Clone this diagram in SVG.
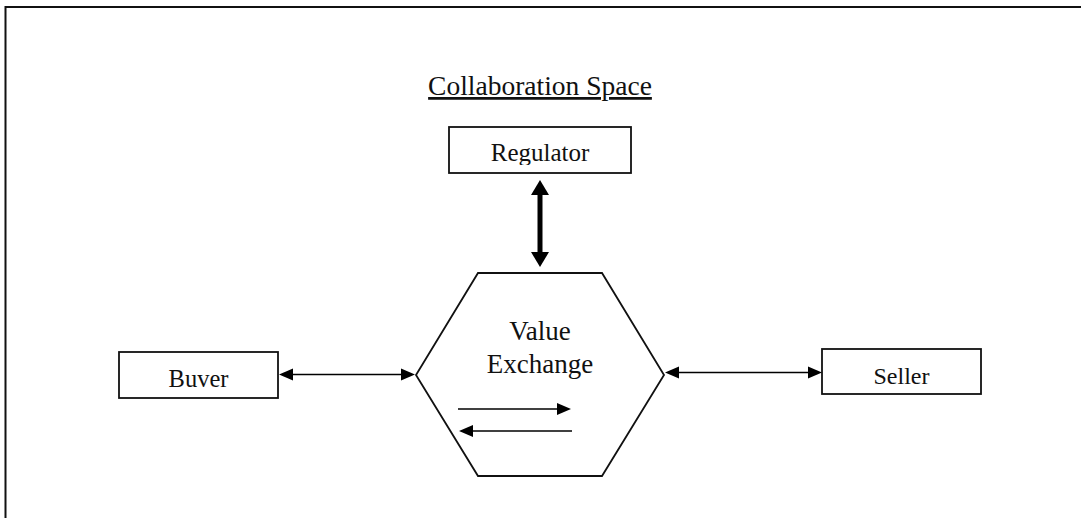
<svg xmlns="http://www.w3.org/2000/svg" width="1081" height="518" viewBox="0 0 1081 518">
  <style>
    .lbl { font-family: "Liberation Serif", "Times New Roman", serif; fill: #111; text-anchor: middle; }
    .box { fill: #fff; stroke: #111; stroke-width: 1.8; }
    .thin { stroke: #000; stroke-width: 1.6; fill: none; }
    .thick { stroke: #000; stroke-width: 5; fill: none; }
  </style>
  <defs>
    <marker id="head" markerUnits="userSpaceOnUse" markerWidth="14" markerHeight="12" refX="0" refY="6" orient="auto-start-reverse" overflow="visible">
      <path d="M0,0 L14,6 L0,12 Z" fill="#000"/>
    </marker>
    <marker id="headBig" markerUnits="userSpaceOnUse" markerWidth="15" markerHeight="18" refX="0" refY="9" orient="auto-start-reverse" overflow="visible">
      <path d="M0,0 L15,9 L0,18 Z" fill="#000"/>
    </marker>
    <clipPath id="clipReg"><rect x="450" y="128" width="180" height="37"/></clipPath>
  </defs>

  <!-- outer frame -->
  <rect x="5.5" y="7" width="1100" height="540" fill="#fff" stroke="#111" stroke-width="2"/>

  <text class="lbl" x="540" y="95" font-size="27.5" text-decoration="underline">Collaboration Space</text>

  <g id="regulator">
    <rect class="box" x="449" y="127" width="182" height="46"/>
    <text class="lbl" x="540" y="161" font-size="25" clip-path="url(#clipReg)">Regulator</text>
  </g>

  <g id="value-exchange">
    <polygon points="478,273 602,273 664,375 602,476 478,476 416,375" fill="#fff" stroke="#111" stroke-width="1.8"/>
    <text class="lbl" x="540" y="340" font-size="27">Value</text>
    <text class="lbl" x="540" y="373" font-size="27">Exchange</text>
    <line class="thin" x1="458" y1="409" x2="557" y2="409" marker-end="url(#head)"/>
    <line class="thin" x1="572" y1="431" x2="473" y2="431" marker-end="url(#head)"/>
  </g>

  <g id="buyer">
    <rect class="box" x="119" y="352" width="159" height="46"/>
    <text class="lbl" x="198.5" y="387" font-size="24.5">Buver</text>
  </g>

  <g id="seller">
    <rect class="box" x="822" y="349" width="159" height="45"/>
    <text class="lbl" x="901.5" y="384" font-size="24">Seller</text>
  </g>

  <g id="connectors">
    <line class="thick" x1="540" y1="195" x2="540" y2="252" marker-start="url(#headBig)" marker-end="url(#headBig)"/>
    <line class="thin" x1="293" y1="374.5" x2="401" y2="374.5" marker-start="url(#head)" marker-end="url(#head)"/>
    <line class="thin" x1="679" y1="372.5" x2="808" y2="372.5" marker-start="url(#head)" marker-end="url(#head)"/>
  </g>
</svg>
